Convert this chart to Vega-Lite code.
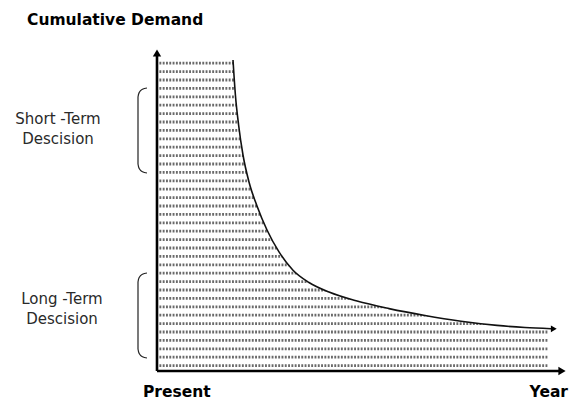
{
  "$schema": "https://vega.github.io/schema/vega-lite/v6.json",
  "width": 572,
  "height": 402,
  "padding": 0,
  "autosize": "none",
  "background": "white",
  "config": {"view": {"stroke": null}},
  "datasets": {
    "curve": [
      {"x": 19, "y": 103.67}, {"x": 19.6, "y": 92}, {"x": 20.4, "y": 82}, {"x": 21.5, "y": 72},
      {"x": 23, "y": 63}, {"x": 25, "y": 55}, {"x": 27.5, "y": 47}, {"x": 30.5, "y": 39.7},
      {"x": 34, "y": 33.6}, {"x": 38, "y": 29.5}, {"x": 43, "y": 26.3}, {"x": 50, "y": 23.3},
      {"x": 58, "y": 20.8}, {"x": 67, "y": 18.5}, {"x": 76, "y": 16.6}, {"x": 85, "y": 15.2},
      {"x": 92, "y": 14.5}, {"x": 98.5, "y": 14.1}
    ],
    "hatch": [
      {"y": 102.6}, {"y": 99.8}, {"y": 97.0}, {"y": 94.2}, {"y": 91.4}, {"y": 88.6}, {"y": 85.8}, {"y": 83.0},
      {"y": 80.2}, {"y": 77.4}, {"y": 74.6}, {"y": 71.8}, {"y": 69.0}, {"y": 66.2}, {"y": 63.4}, {"y": 60.6},
      {"y": 57.8}, {"y": 55.0}, {"y": 52.2}, {"y": 49.4}, {"y": 46.6}, {"y": 43.8}, {"y": 41.0}, {"y": 38.2},
      {"y": 35.4}, {"y": 32.6}, {"y": 29.8}, {"y": 27.0}, {"y": 24.2}, {"y": 21.4}, {"y": 18.6}, {"y": 15.8},
      {"y": 13.0}, {"y": 10.2}, {"y": 7.4}, {"y": 4.6}, {"y": 1.8}
    ],
    "brackets": [
      {"b": "short", "i": 0, "x": -2.5, "y": 94.33}, {"b": "short", "i": 1, "x": -3.625, "y": 93.93},
      {"b": "short", "i": 2, "x": -4.45, "y": 92.83}, {"b": "short", "i": 3, "x": -4.75, "y": 91.33},
      {"b": "short", "i": 4, "x": -4.75, "y": 69}, {"b": "short", "i": 5, "x": -4.45, "y": 67.5},
      {"b": "short", "i": 6, "x": -3.625, "y": 66.4}, {"b": "short", "i": 7, "x": -2.5, "y": 66},
      {"b": "long", "i": 0, "x": -2.5, "y": 32.67}, {"b": "long", "i": 1, "x": -3.625, "y": 32.27},
      {"b": "long", "i": 2, "x": -4.45, "y": 31.17}, {"b": "long", "i": 3, "x": -4.75, "y": 29.67},
      {"b": "long", "i": 4, "x": -4.75, "y": 7.33}, {"b": "long", "i": 5, "x": -4.45, "y": 5.83},
      {"b": "long", "i": 6, "x": -3.625, "y": 4.73}, {"b": "long", "i": 7, "x": -2.5, "y": 4.33}
    ]
  },
  "layer": [
    {
      "data": {"name": "hatch"},
      "mark": {"type": "rule", "stroke": "#6a6a6a", "strokeWidth": 2.8, "strokeDash": [1.9, 1.4]},
      "encoding": {
        "x": {"datum": 0.6, "type": "quantitative", "scale": {"domain": [-39.25, 103.75], "nice": false, "zero": false}, "axis": null},
        "x2": {"datum": 97.75},
        "y": {"field": "y", "type": "quantitative", "scale": {"domain": [-10.333, 123.667], "nice": false, "zero": false}, "axis": null}
      }
    },
    {
      "data": {"name": "curve"},
      "mark": {"type": "area", "fill": "white", "interpolate": "monotone"},
      "encoding": {
        "x": {"field": "x", "type": "quantitative", "scale": {"domain": [-39.25, 103.75], "nice": false, "zero": false}, "axis": null},
        "y": {"field": "y", "type": "quantitative", "scale": {"domain": [-10.333, 123.667], "nice": false, "zero": false}, "axis": null},
        "y2": {"datum": 112}
      }
    },
    {
      "data": {"name": "curve"},
      "mark": {"type": "line", "stroke": "#111", "strokeWidth": 1.6, "interpolate": "monotone"},
      "encoding": {
        "x": {"field": "x", "type": "quantitative", "scale": {"domain": [-39.25, 103.75], "nice": false, "zero": false}, "axis": null},
        "y": {"field": "y", "type": "quantitative", "scale": {"domain": [-10.333, 123.667], "nice": false, "zero": false}, "axis": null}
      }
    },
    {
      "data": {"values": [{"x": 99.2, "y": 14.05}]},
      "mark": {"type": "point", "shape": "triangle-right", "filled": true, "color": "black", "size": 45, "opacity": 1},
      "encoding": {
        "x": {"field": "x", "type": "quantitative", "scale": {"domain": [-39.25, 103.75], "nice": false, "zero": false}, "axis": null},
        "y": {"field": "y", "type": "quantitative", "scale": {"domain": [-10.333, 123.667], "nice": false, "zero": false}, "axis": null}
      }
    },
    {
      "data": {"values": [{"x": 0, "y": 0, "y2": 106}]},
      "mark": {"type": "rule", "stroke": "black", "strokeWidth": 2.6},
      "encoding": {
        "x": {"field": "x", "type": "quantitative", "scale": {"domain": [-39.25, 103.75], "nice": false, "zero": false}, "axis": null},
        "y": {"field": "y", "type": "quantitative", "scale": {"domain": [-10.333, 123.667], "nice": false, "zero": false}, "axis": null},
        "y2": {"field": "y2"}
      }
    },
    {
      "data": {"values": [{"x": 0, "x2": 101, "y": 0}]},
      "mark": {"type": "rule", "stroke": "black", "strokeWidth": 2.6},
      "encoding": {
        "x": {"field": "x", "type": "quantitative", "scale": {"domain": [-39.25, 103.75], "nice": false, "zero": false}, "axis": null},
        "x2": {"field": "x2"},
        "y": {"field": "y", "type": "quantitative", "scale": {"domain": [-10.333, 123.667], "nice": false, "zero": false}, "axis": null}
      }
    },
    {
      "data": {"values": [{"x": 0, "y": 106}]},
      "mark": {"type": "point", "shape": "triangle-up", "filled": true, "color": "black", "size": 70, "opacity": 1},
      "encoding": {
        "x": {"field": "x", "type": "quantitative", "scale": {"domain": [-39.25, 103.75], "nice": false, "zero": false}, "axis": null},
        "y": {"field": "y", "type": "quantitative", "scale": {"domain": [-10.333, 123.667], "nice": false, "zero": false}, "axis": null}
      }
    },
    {
      "data": {"values": [{"x": 101.25, "y": 0}]},
      "mark": {"type": "point", "shape": "triangle-right", "filled": true, "color": "black", "size": 70, "opacity": 1},
      "encoding": {
        "x": {"field": "x", "type": "quantitative", "scale": {"domain": [-39.25, 103.75], "nice": false, "zero": false}, "axis": null},
        "y": {"field": "y", "type": "quantitative", "scale": {"domain": [-10.333, 123.667], "nice": false, "zero": false}, "axis": null}
      }
    },
    {
      "data": {"name": "brackets"},
      "mark": {"type": "line", "stroke": "#222", "strokeWidth": 1.2, "interpolate": "monotone"},
      "encoding": {
        "x": {"field": "x", "type": "quantitative", "scale": {"domain": [-39.25, 103.75], "nice": false, "zero": false}, "axis": null},
        "y": {"field": "y", "type": "quantitative", "scale": {"domain": [-10.333, 123.667], "nice": false, "zero": false}, "axis": null},
        "detail": {"field": "b"},
        "order": {"field": "i", "type": "quantitative"}
      }
    },
    {
      "data": {"values": [
        {"x": -24.75, "y": 82.33, "t": "Short -Term"},
        {"x": -24.75, "y": 75.67, "t": "Descision"},
        {"x": -23.75, "y": 22.33, "t": "Long -Term"},
        {"x": -23.75, "y": 15.67, "t": "Descision"}
      ]},
      "mark": {"type": "text", "font": "DejaVu Sans", "fontSize": 15, "color": "#2a2a2a", "align": "center", "baseline": "alphabetic"},
      "encoding": {
        "x": {"field": "x", "type": "quantitative", "scale": {"domain": [-39.25, 103.75], "nice": false, "zero": false}, "axis": null},
        "y": {"field": "y", "type": "quantitative", "scale": {"domain": [-10.333, 123.667], "nice": false, "zero": false}, "axis": null},
        "text": {"field": "t"}
      }
    },
    {
      "data": {"values": [
        {"x": -32.5, "y": 115.33, "t": "Cumulative Demand"},
        {"x": -3.5, "y": -8.67, "t": "Present"}
      ]},
      "mark": {"type": "text", "font": "DejaVu Sans", "fontWeight": "bold", "fontSize": 15.5, "color": "black", "align": "left", "baseline": "alphabetic"},
      "encoding": {
        "x": {"field": "x", "type": "quantitative", "scale": {"domain": [-39.25, 103.75], "nice": false, "zero": false}, "axis": null},
        "y": {"field": "y", "type": "quantitative", "scale": {"domain": [-10.333, 123.667], "nice": false, "zero": false}, "axis": null},
        "text": {"field": "t"}
      }
    },
    {
      "data": {"values": [
        {"x": 102.75, "y": -8.67, "t": "Year"}
      ]},
      "mark": {"type": "text", "font": "DejaVu Sans", "fontWeight": "bold", "fontSize": 15.5, "color": "black", "align": "right", "baseline": "alphabetic"},
      "encoding": {
        "x": {"field": "x", "type": "quantitative", "scale": {"domain": [-39.25, 103.75], "nice": false, "zero": false}, "axis": null},
        "y": {"field": "y", "type": "quantitative", "scale": {"domain": [-10.333, 123.667], "nice": false, "zero": false}, "axis": null},
        "text": {"field": "t"}
      }
    }
  ]
}
